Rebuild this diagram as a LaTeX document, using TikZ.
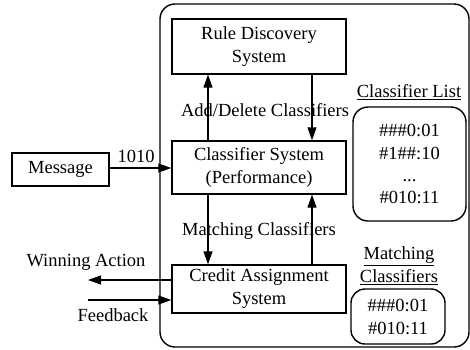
\documentclass[tikz,border=0pt]{standalone}
\usepackage{fontspec}
\setmainfont{Liberation Serif}
\usetikzlibrary{arrows.meta}
\begin{document}
\begin{tikzpicture}[x=1pt,y=-1pt,
  every node/.style={font=\fontsize{18.5}{23}\selectfont, inner sep=0pt},
  sysbox/.style={draw, line width=1.4pt, align=center, minimum width=174pt},
  listbox/.style={draw, line width=1.4pt, rounded corners=15pt, align=center},
  arr/.style={line width=1.2pt, -{Triangle[length=13pt,width=9pt]}},
  lbl/.style={align=center}]
\useasboundingbox (0,0) rectangle (470,349);

% enclosing learning classifier system
\draw[line width=1.4pt, rounded corners=15pt] (160,4) rectangle (469,347);

% component boxes
\node[sysbox, minimum height=55pt] (rule) at (259,46.5) {Rule Discovery\\System};
\node[sysbox, minimum height=53pt] (cs) at (259,167.5) {Classifier System\\(Performance)};
\node[sysbox, minimum height=48pt] (ca) at (259,289) {Credit Assignment\\System};
\node[draw, line width=1.4pt, minimum width=97pt, minimum height=33pt] (msg) at (60.5,169.5) {Message};

% classifier stores
\node[listbox, minimum width=113pt, minimum height=114pt] (clist) at (409.5,164)
  {\#\#\#0:01\\[-0.5pt]\#1\#\#:10\\[-1pt]...\\[-1pt]\#010:11};
\node[listbox, rounded corners=14pt, minimum width=94pt, minimum height=55pt] (mlist) at (398,316.5)
  {\#\#\#0:01\\\#010:11};
\node[lbl] (clt) at (409,92) {\underline{Classifier List}};
\node[lbl] (mlt) at (399,266) {\underline{Matching}\\\underline{Classifiers}};

% vertical connector columns
\coordinate (lx) at (208,0);
\coordinate (rx) at (312,0);
\draw[arr] (cs.north -| lx) -- (rule.south -| lx);
\draw[arr] (rule.south -| rx) -- (cs.north -| rx);
\draw[arr] (cs.south -| lx) -- (ca.north -| lx);
\draw[arr] (ca.north -| rx) -- (cs.south -| rx);
\node[lbl] (adl) at (265,110) {Add/Delete Classifiers};
\node[lbl] (mcl) at (259,231) {Matching Classifiers};

% input message
\coordinate (min) at (172,168);
\draw[arr] (msg.east |- min) -- (cs.west |- min);
\node[lbl] (bits) at (136,156) {1010};

% action out, feedback in
\coordinate (wa) at (88,280);
\coordinate (fb) at (88,300);
\draw[arr] (ca.west |- wa) -- (wa);
\draw[arr] (fb) -- (ca.west |- fb);
\node[lbl] (wal) at (86,262) {Winning Action};
\node[lbl] (fbl) at (113,315) {Feedback};
\end{tikzpicture}
\end{document}
